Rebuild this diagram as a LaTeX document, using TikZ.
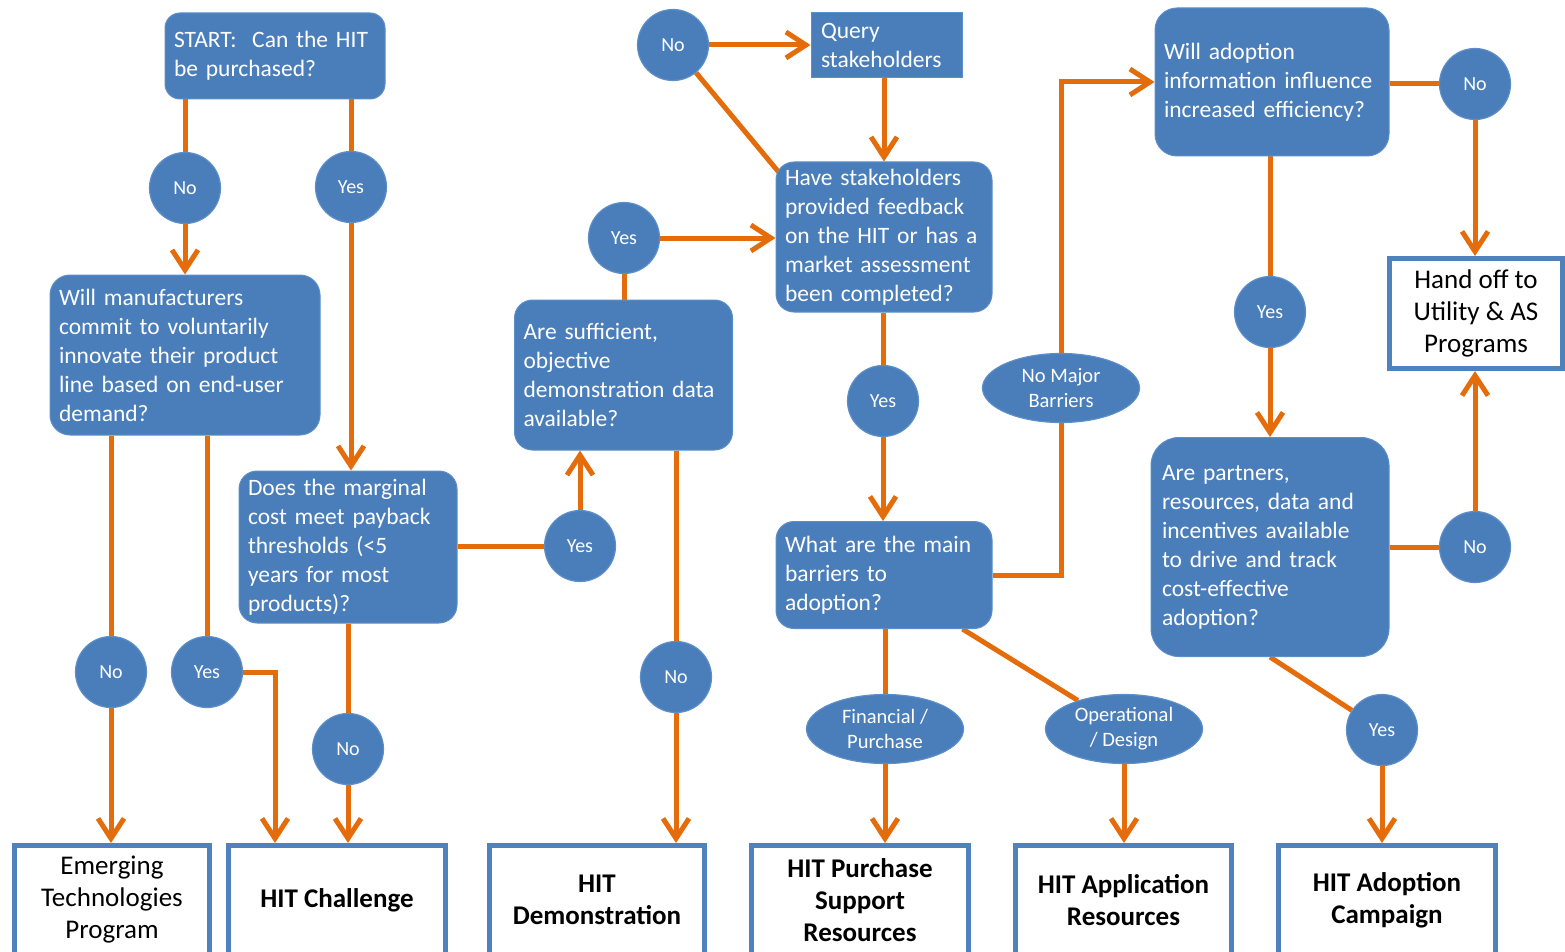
\documentclass[tikz,border=0pt]{standalone}
\usepackage{fontspec}
\setmainfont{Carlito}
\usetikzlibrary{arrows.meta,shapes.geometric,backgrounds,calc}
\definecolor{boxblue}{RGB}{74,126,187}
\definecolor{ringblue}{RGB}{92,142,200}
\definecolor{frameblue}{RGB}{79,129,189}
\definecolor{flow}{RGB}{228,108,10}

\tikzset{
  question/.style={rectangle, rounded corners=18pt, fill=boxblue, draw=ringblue, line width=1pt,
    text=white, align=left, inner xsep=9pt, inner ysep=0pt, font=\fontsize{23.5}{29}\selectfont},
  answer/.style={circle, fill=boxblue, draw=ringblue, line width=1.2pt, text=white,
    minimum size=71pt, inner sep=0pt, font=\fontsize{20}{24}\selectfont},
  barrier/.style={ellipse, fill=boxblue, draw=ringblue, line width=1.2pt, text=white, align=center,
    inner sep=0pt, minimum width=157pt, minimum height=69pt, font=\fontsize{20.5}{25}\selectfont},
  outcome/.style={rectangle, fill=white, draw=frameblue, line width=5pt, align=center, inner sep=0pt,
    text=black, minimum width=216pt, minimum height=109pt, font=\fontsize{27}{32}\selectfont},
  boldoutcome/.style={outcome, font=\fontsize{27}{32}\selectfont\bfseries},
  conn/.style={draw=flow, line width=5pt},
  flowarrow/.style={conn, -{Straight Barb[length=20pt,width=26pt]}},
}

\begin{document}
\begin{tikzpicture}[x=1pt, y=-1pt]
\useasboundingbox (0,0) rectangle (1565,952);
\clip (0,0) rectangle (1565,952);

% decision boxes
\node[question, text width=202pt, minimum height=86pt, rounded corners=15pt] (start) at (275,56)
  {START:~ Can the HIT\\ be purchased?};
\node[question, text width=252pt, minimum height=160pt, rounded corners=20pt] (manuf) at (185,355)
  {Will manufacturers\\ commit to voluntarily\\ innovate their product\\ line based on end-user\\ demand?};
\node[question, text width=200pt, minimum height=152pt] (does) at (348,547)
  {Does the marginal\\ cost meet payback\\ thresholds (<5\\ years for most\\ products)?};
\node[question, text width=200pt, minimum height=150pt] (suff) at (623.5,375)
  {Are sufficient,\\ objective\\ demonstration data\\ available?};
\node[question, text width=198pt, minimum height=150pt] (have) at (884,237)
  {Have stakeholders\\ provided feedback\\ on the HIT or has a\\ market assessment\\ been completed?};
\node[question, text width=198pt, minimum height=107pt] (what) at (884,575)
  {What are the main\\ barriers to\\ adoption?};
\node[question, text width=216pt, minimum height=148pt, rounded corners=22pt] (will) at (1272,82)
  {Will adoption\\ information influence\\ increased efficiency?};
\node[question, text width=216pt, minimum height=219pt, rounded corners=28pt, inner xsep=11pt] (part) at (1270,547)
  {Are partners,\\ resources, data and\\ incentives available\\ to drive and track\\ cost-effective\\ adoption?};
\node[question, rounded corners=0pt, text width=131pt, minimum height=65pt, inner xsep=10pt] (query) at (886.5,45.5)
  {Query\\ stakeholders};

% answers
\node[answer] (noA)  at (185,188) {No};
\node[answer] (yesA) at (351,187) {Yes};
\node[answer] (noB)  at (111,672) {No};
\node[answer] (yesB) at (207,672) {Yes};
\node[answer] (noC)  at (348,749) {No};
\node[answer] (yesC) at (580,546) {Yes};
\node[answer] (yesD) at (624,238) {Yes};
\node[answer] (noD)  at (676,677) {No};
\node[answer] (noE)  at (673,45)  {No};
\node[answer] (yesE) at (883,401) {Yes};
\node[answer] (noF)  at (1475,84) {No};
\node[answer] (yesF) at (1270,312) {Yes};
\node[answer] (noG)  at (1475,547) {No};
\node[answer] (yesG) at (1382,730) {Yes};

% barrier types
\node[barrier] (nomaj) at (1061,388) {No Major\\ Barriers};
\node[barrier] (fin)   at (885,729)  {Financial /\\ Purchase};
\node[barrier] (oper)  at (1124,729) {Operational\\ / Design};

% outcomes
\node[outcome, minimum width=195pt] (emerg) at (112,900) {Emerging\\ Technologies\\ Program};
\node[boldoutcome, minimum width=217pt] (chal) at (337,900) {HIT Challenge};
\node[boldoutcome, minimum width=215pt] (demo) at (597,900) {HIT\\ Demonstration};
\node[boldoutcome, minimum width=217pt] (purch) at (860,900) {HIT Purchase\\ Support\\ Resources};
\node[boldoutcome, minimum width=216pt] (appl) at (1123.5,900) {HIT Application\\ Resources};
\node[boldoutcome, minimum width=217pt] (adopt) at (1387,900) {HIT Adoption\\ Campaign};
\node[outcome, minimum width=173pt, minimum height=110pt] (hand) at (1476,313.5) {Hand off to\\ Utility \& AS\\ Programs};

% connectors
\begin{scope}[on background layer]
  \draw[conn] (start.south -| noA) -- (noA);
  \draw[flowarrow] (noA) -- (noA |- manuf.north);
  \draw[conn] (start.south -| yesA) -- (yesA);
  \draw[flowarrow] (yesA) -- (yesA |- does.north);

  \draw[conn] (manuf.south -| noB) -- (noB);
  \draw[flowarrow] (noB) -- (noB |- emerg.north);
  \draw[conn] (manuf.south -| yesB) -- (yesB);
  \draw[flowarrow] (yesB) -| ([xshift=49pt]chal.north west);

  \draw[conn] (does.east |- yesC) -- (yesC);
  \draw[flowarrow] (yesC) -- (yesC |- suff.south);
  \draw[conn] (does.south -| noC) -- (noC);
  \draw[flowarrow] (noC) -- (noC |- chal.north);

  \draw[conn] (suff.north -| yesD) -- (yesD);
  \draw[flowarrow] (yesD) -- (yesD -| have.west);
  \draw[conn] (suff.south -| noD) -- (noD);
  \draw[flowarrow] (noD) -- (noD |- demo.north);

  \draw[flowarrow] (noE) -- (noE -| query.west);
  \draw[conn] (noE) -- ([shift={(6,14)}]have.north west);
  \draw[flowarrow] (query.south -| have.north) -- (have.north);

  \draw[conn] (have.south -| yesE) -- (yesE);
  \draw[flowarrow] (yesE) -- (yesE |- what.north);

  \draw[conn] (what.south -| fin) -- (fin);
  \draw[flowarrow] (fin) -- (fin |- purch.north);
  \draw[conn] ([xshift=-30pt]what.south east) -- (oper);
  \draw[flowarrow] (oper) -- (oper |- appl.north);
  \draw[conn] (what.east) -| (nomaj);
  \draw[flowarrow] (nomaj) |- (will);

  \draw[conn] (will.east |- noF) -- (noF);
  \draw[flowarrow] (noF) -- (noF |- hand.north);
  \draw[conn] (will.south -| yesF) -- (yesF);
  \draw[flowarrow] (yesF) -- (yesF |- part.north);

  \draw[conn] (part.east |- noG) -- (noG);
  \draw[flowarrow] (noG) -- (noG |- hand.south);
  \draw[conn] (part.south) -- (yesG);
  \draw[flowarrow] (yesG) -- (yesG |- adopt.north);
\end{scope}
\end{tikzpicture}
\end{document}
